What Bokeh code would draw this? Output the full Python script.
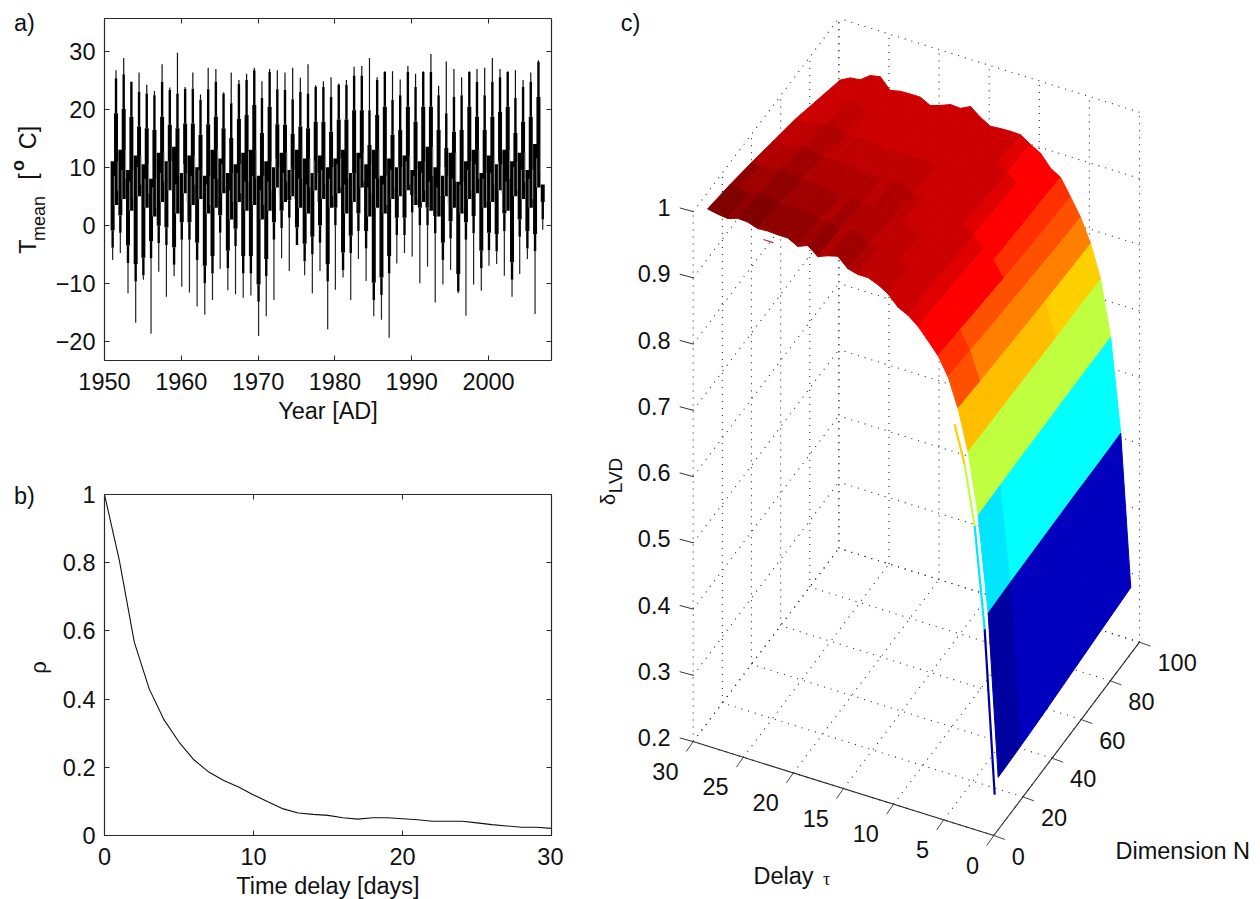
import math
import numpy as np
from bokeh.plotting import figure
from bokeh.layouts import row, column
from bokeh.models import Range1d, FixedTicker, LinearAxis, Label, CustomJSTickFormatter
from bokeh.embed import file_html
from bokeh.resources import INLINE

FONT = "Liberation Sans"
FS = "23.5px"
INK = "#2a2a2a"

# ---------- panel a: yearly envelope ----------
winter_years = list(range(1951, 2008))
summer_years = list(range(1951, 2007))
summer_peak = [26.7,28.8,24.7,26.3,24.2,23.1,27.7,23.7,29.7,23.8,26.3,22.5,27.1,26.9,22.9,26.3,25.0,26.1,27.1,24.8,26.9,26.7,26.3,27.1,25.4,27.7,24.1,24.8,
               25.5,24.4,25.0,27.3,27.4,28.8,25.5,26.5,26.5,25.1,27.4,26.1,26.5,29.5,24.0,28.2,26.9,25.5,26.5,26.9,27.1,28.8,26.9,26.5,26.7,25.0,26.3,28.4]
summer_body = [25.3,26.0,24.7,23.0,22.7,22.4,24.7,23.3,22.7,23.5,23.5,21.6,23.4,24.7,22.7,21.0,24.3,25.0,26.7,21.9,26.4,23.4,23.3,21.7,23.0,22.7,23.8,23.8,
               22.1,24.2,24.2,25.8,25.8,19.8,25.0,26.4,21.6,22.4,26.4,23.8,26.4,26.4,22.4,19.3,22.1,22.4,26.4,24.7,22.4,24.7,25.5,26.4,21.9,23.8,24.7,28.1]
summer_low = [3.5,4.5,2.5,5.0,3.0,1.5,4.0,6.0,2.0,5.5,3.5,4.5,2.0,3.0,5.5,1.0,4.0,2.5,3.5,1.0,2.5,6.5,4.0,5.0,3.0,2.0,6.0,4.5,
              3.0,5.5,2.0,4.0,6.5,1.5,3.0,2.0,4.5,5.0,6.0,3.5,4.0,2.5,1.5,5.0,3.0,2.0,4.5,5.5,3.0,4.0,6.0,2.5,5.0,4.5,3.0,6.5]
winter_min = [-6,-4.8,-11.7,-16.8,-9.4,-18.7,-8,-12.3,-8.8,-10.6,-11.6,-14,-15.4,-12.9,-7.5,-11.2,-11.9,-12.5,-12.1,-19.1,-15.7,-12.9,-5.7,-7.9,-3,-8.6,-11.7,-7.9,
              -17.9,-11.1,-9,-12.9,-5.8,-9.6,-15.7,-16.3,-19.4,-6.6,-4.8,-5.4,-10,-7.1,-13.3,-10.2,-7.7,-11.7,-15.6,-10.2,-11.3,-7,-6.7,-8.7,-12.3,-8.4,-5.8,-15.3,-0.8]
winter_body = [-3.9,-1.3,-6.5,-9.7,-8.6,-5.7,-3.1,-3.4,-6.8,-2.5,-2.5,-6,-10,-8.3,-1.3,-7.4,-3.6,-8.3,-8.3,-13.2,-8.8,-2.5,-0.5,1.3,-3.4,-6.2,-5,-3,
               -9.7,0,-7.7,-4.8,-1,-4,-12.9,-12,-8.3,-1.7,-1.7,2.2,0,0,-1.4,-6,-2.3,-11.4,-2.5,-1.4,-7.4,-4.3,-4.5,-1,-9.4,-2,-4,-4.5,1]
winter_high = [11.0,13.0,9.5,12.0,10.5,8.0,12.5,11.0,13.5,9.0,12.0,10.0,8.5,13.0,11.5,9.0,10.5,12.5,13.0,8.5,11.0,10.0,12.5,9.5,13.0,11.5,9.0,12.0,
               10.0,11.5,13.0,9.0,12.5,10.5,13.0,8.5,11.5,10.0,12.0,9.5,11.0,13.5,10.0,8.5,12.5,7.5,11.0,13.0,9.0,12.0,10.5,13.0,11.0,12.5,9.5,14.0,7.0]

# ---------- panel b ----------
lag_days = list(range(0, 31))
rho_vals = [1.0,0.806,0.567,0.43,0.339,0.274,0.222,0.186,0.161,0.142,0.119,0.098,0.078,0.066,0.062,0.059,
            0.052,0.048,0.052,0.052,0.049,0.046,0.042,0.042,0.042,0.037,0.032,0.028,0.024,0.024,0.021]

# ---------- panel c: surface delta(tau, N) ----------
tau_vals = list(range(0, 30))
dim_vals = [3, 18, 33, 48, 63, 78, 94]
delta_rows = [
 [.279,.281,.284,.288,.292,.296,.300],
 [.522,.524,.525,.526,.527,.527,.528],
 [.665,.666,.667,.667,.668,.668,.668],
 [.756,.755,.754,.753,.752,.752,.751],
 [.817,.813,.810,.807,.804,.802,.800],
 [.860,.855,.850,.846,.842,.838,.835],
 [.887,.882,.877,.872,.868,.864,.861],
 [.905,.901,.897,.895,.892,.889,.886],
 [.922,.917,.913,.908,.904,.899,.895],
 [.934,.931,.926,.923,.919,.915,.913],
 [.9415,.940,.937,.934,.930,.925,.9215],
 [.957,.951,.946,.942,.938,.935,.9315],
 [.966,.960,.954,.947,.941,.936,.932],
 [.972,.966,.958,.951,.945,.938,.9315],
 [.972,.967,.961,.953,.947,.938,.930],
 [.976,.970,.964,.957,.951,.945,.939],
 [.990,.981,.973,.966,.961,.956,.9505],
 [.986,.981,.974,.966,.958,.951,.943],
 [.980,.976,.972,.965,.958,.950,.944],
 [.992,.984,.977,.967,.958,.947,.938],
 [.986,.982,.973,.965,.956,.944,.933],
 [.994,.986,.978,.970,.961,.950,.941],
 [.994,.988,.980,.971,.962,.951,.941],
 [.995,.988,.980,.972,.961,.950,.9405],
 [.994,.987,.979,.970,.959,.948,.937],
 [.999,.992,.984,.976,.968,.961,.953],
 [1.00,.993,.986,.977,.968,.958,.950],
 [.995,.990,.982,.972,.961,.949,.939],
 [.997,.990,.981,.970,.959,.947,.937],
 [1.00,.992,.982,.971,.960,.945,.929],
]
level_edges = [.523,.55,.6655,.72,.78,.805,.83,.858,.882,.896,.925,.935,.962,.972,.982,.990,.996]
level_colors = ["#0000A0","#0000BE","#00E6FF","#00FFFF","#BFFF40","#FFD000","#FFBF00","#FF8000","#FF5000",
                "#FF3000","#FF0000","#E00000","#CC0000","#BE0000","#B00000","#A00000","#900000","#800000"]
ribbon_tau = [0, 1, 2, 3, 4]
ribbon_delta = [.26, .505, .656, .744, .80]
ribbon_colors = ["#0000A0", "#00E6FF", "#BFFF40", "#FFD000"]
fleck_tau = [22, 23]
fleck_delta = [.991, .991]

tau_ticks = [0, 5, 10, 15, 20, 25, 30]
dim_ticks = [0, 20, 40, 60, 80, 100]
delta_ticks = [0.2, 0.3, 0.4, 0.5, 0.6, 0.7, 0.8, 0.9, 1.0]
delta_tick_labels = ["0.2", "0.3", "0.4", "0.5", "0.6", "0.7", "0.8", "0.9", "1"]


def proj(tau, n, z):
    tau, n, z = np.asarray(tau, float), np.asarray(n, float), np.asarray(z, float)
    return 993.3 - 10.02 * tau + 1.457 * n, 835.0 - 3.13 * tau - 1.933 * n - 662.5 * (z - 0.2)


def base_axes(p, xticks, yticks, xlabel):
    blank = CustomJSTickFormatter(code="return ''")
    for ax in (p.xaxis[0], p.yaxis[0]):
        ax.major_label_text_font = FONT
        ax.major_label_text_font_size = FS
        ax.major_label_text_color = "#111111"
    p.xaxis[0].axis_label = xlabel
    p.xaxis[0].axis_label_text_font = FONT
    p.xaxis[0].axis_label_text_font_size = FS
    p.xaxis[0].axis_label_text_font_style = "normal"
    p.xaxis[0].axis_label_text_color = "#111111"
    p.xaxis[0].axis_label_standoff = 5
    p.add_layout(LinearAxis(formatter=blank), "above")
    p.add_layout(LinearAxis(formatter=blank), "right")
    for ax, t in ((p.below[0], xticks), (p.above[0], xticks), (p.left[0], yticks), (p.right[0], yticks)):
        ax.ticker = FixedTicker(ticks=t)
        ax.major_tick_in = 5
        ax.major_tick_out = 0
        ax.minor_tick_line_color = None
        ax.axis_line_color = INK
        ax.major_tick_line_color = INK
        ax.axis_line_width = 1.2
    p.above[0].major_label_standoff = 0
    p.right[0].major_label_standoff = 0
    p.below[0].major_label_standoff = 12
    p.left[0].major_label_standoff = 9
    p.grid.visible = False
    p.outline_line_color = None


def txt(p, x, y, s, size=FS, angle=0.0, align="center", base="middle", font=FONT, style="normal"):
    p.add_layout(Label(x=x, y=y, text=s, text_font=font, text_font_size=size, angle=angle, text_align=align,
                       text_baseline=base, text_color="#111111", text_font_style=style))


# ---------- gutter with the texts left of the tick labels ----------
g = figure(width=52, height=891, min_border=0, x_range=Range1d(0, 52), y_range=Range1d(891, 0),
           toolbar_location=None, output_backend="svg")
g.axis.visible = False
g.grid.visible = False
g.outline_line_color = None
R = math.pi / 2
txt(g, 24, 22, "a)")
txt(g, 24, 495, "b)")
txt(g, 27, 246, "T", angle=R)
txt(g, 38, 218, "mean", size="18px", angle=R)
txt(g, 27, 176, "[", angle=R)
txt(g, 17, 165, "o", size="18px", angle=R, style="bold")
txt(g, 27, 137, "C]", angle=R)
txt(g, 38, 667, "ρ", size="22px", angle=R)

# ---------- panel a ----------
a = figure(frame_width=447, frame_height=342, min_border_left=49, min_border_top=18, min_border_right=15,
           min_border_bottom=110, x_range=Range1d(1950, 2008.2), y_range=Range1d(-23.3, 35.6),
           toolbar_location=None, output_backend="svg")
base_axes(a, [1950, 1960, 1970, 1980, 1990, 2000], [-20, -10, 0, 10, 20, 30], "Year [AD]")
sx = np.array(summer_years) + 0.50
wx = np.array(winter_years) + 0.06
sb = np.array(summer_body)
wb = np.array(winter_body)
sl = np.array(summer_low)
wh = np.array(winter_high)
a.segment(sx, sl, sx, sb - 6, line_color="black", line_width=4, line_cap="butt")
a.segment(sx, sb - 6, sx, sb, line_color="black", line_width=2.4, line_cap="butt")
a.segment(sx, sb, sx, summer_peak, line_color="#111111", line_width=1.2, line_cap="butt")
a.segment(wx, winter_min, wx, wb, line_color="#222222", line_width=1.2, line_cap="butt")
a.segment(wx, wb, wx, wb + 3, line_color="black", line_width=2.4, line_cap="butt")
a.segment(wx, wb + 3, wx, wh, line_color="black", line_width=4, line_cap="butt")
# pale slits between the two strokes of a year, where they touch
a.segment(sx + 0.25, wh[:-1] - 5, sx + 0.25, wh[:-1], line_color="#8a8a8a", line_width=1, line_cap="butt")
a.segment(sx - 0.22, sl, sx - 0.22, sl + 5, line_color="#8a8a8a", line_width=1, line_cap="butt")

# ---------- panel b ----------
b = figure(frame_width=447, frame_height=341, min_border_left=49, min_border_top=24, min_border_right=15,
           min_border_bottom=62, x_range=Range1d(0, 30), y_range=Range1d(0, 1),
           toolbar_location=None, output_backend="svg")
base_axes(b, [0, 10, 20, 30], [0, 0.2, 0.4, 0.6, 0.8, 1], "Time delay [days]")
b.left[0].major_label_overrides = {0: "0", 1: "1"}
b.line(lag_days, rho_vals, line_color="#111111", line_width=1.1)

# ---------- panel c ----------
c = figure(width=690, height=895, min_border=0, x_range=Range1d(566, 1256), y_range=Range1d(895, 0),
           toolbar_location=None, output_backend="svg")
c.axis.visible = False
c.grid.visible = False
c.outline_line_color = None

gx, gy = [], []


def grid_line(t0, n0, z0, t1, n1, z1):
    x, y = proj([t0, t1], [n0, n1], [z0, z1])
    gx.append(list(x))
    gy.append(list(y))


for t in tau_ticks:
    grid_line(t, 0, 0.2, t, 100, 0.2)
    grid_line(t, 100, 0.2, t, 100, 1.0)
for n in dim_ticks:
    grid_line(0, n, 0.2, 30, n, 0.2)
    grid_line(30, n, 0.2, 30, n, 1.0)
for z in delta_ticks:
    grid_line(30, 0, z, 30, 100, z)
    grid_line(0, 100, z, 30, 100, z)
c.multi_line(gx, gy, line_color="#222222", line_width=1.1, line_dash="1 6")

xs, ys, cols = [], [], []
Z = np.array(delta_rows)
for i in range(len(tau_vals) - 2, -1, -1):
    for j in range(len(dim_vals) - 2, -1, -1):
        x, y = proj([tau_vals[i], tau_vals[i + 1], tau_vals[i + 1], tau_vals[i]],
                    [dim_vals[j], dim_vals[j], dim_vals[j + 1], dim_vals[j + 1]],
                    [Z[i, j], Z[i + 1, j], Z[i + 1, j + 1], Z[i, j + 1]])
        xs.append(list(x))
        ys.append(list(y))
        cols.append(level_colors[int(np.searchsorted(level_edges, Z[i + 1, j]))])
c.patches(xs, ys, fill_color=cols, line_color=cols, line_width=1)

for k, col in enumerate(ribbon_colors):
    x, y = proj(ribbon_tau[k:k + 2], [0.6, 0.6], ribbon_delta[k:k + 2])
    c.line(x, y, line_color=col, line_width=2.2, line_cap="butt")
x, y = proj(fleck_tau, [0, 0], fleck_delta)
c.line(x, y, line_color="#B03040", line_width=1.2)

x, y = proj([30, 0], [0, 0], [0.2, 0.2])
c.line(x, y, line_color=INK, line_width=1.1)
x, y = proj([0, 0], [0, 100], [0.2, 0.2])
c.line(x, y, line_color=INK, line_width=1.1)
tx, ty = proj(tau_ticks, [0] * len(tau_ticks), [0.2] * len(tau_ticks))
for t_x, t_y, t in zip(tx, ty, tau_ticks):
    c.line([t_x, t_x - 7], [t_y, t_y + 10], line_color="#444444", line_width=1)
    txt(c, t_x - 14.7, t_y + 29.5, str(t), align="right")
nx, ny = proj([0] * len(dim_ticks), dim_ticks, [0.2] * len(dim_ticks))
for n_x, n_y, n in zip(nx, ny, dim_ticks):
    c.line([n_x, n_x + 11], [n_y, n_y + 4], line_color="#444444", line_width=1)
    txt(c, n_x + 18, n_y + 20.5, str(n), align="left")
zx, zy = proj([30] * len(delta_ticks), [0] * len(delta_ticks), delta_ticks)
for z_x, z_y, lab in zip(zx, zy, delta_tick_labels):
    c.line([z_x, z_x - 13.5], [z_y, z_y - 3.7], line_color="#333333", line_width=1)
    txt(c, z_x - 22.7, z_y - 4, lab, align="right")

txt(c, 630, 22, "c)")
txt(c, 753, 875, "Delay", align="left")
txt(c, 826, 878, "τ", size="18px", font="Liberation Serif")
txt(c, 1115, 850, "Dimension N", align="left")
txt(c, 607, 499, "δ", size="20px", angle=R)
txt(c, 615, 475, "LVD", size="19px", angle=R)

page = row(g, column(a, b), c)
open("out.html", "w").write(file_html(page, INLINE))
